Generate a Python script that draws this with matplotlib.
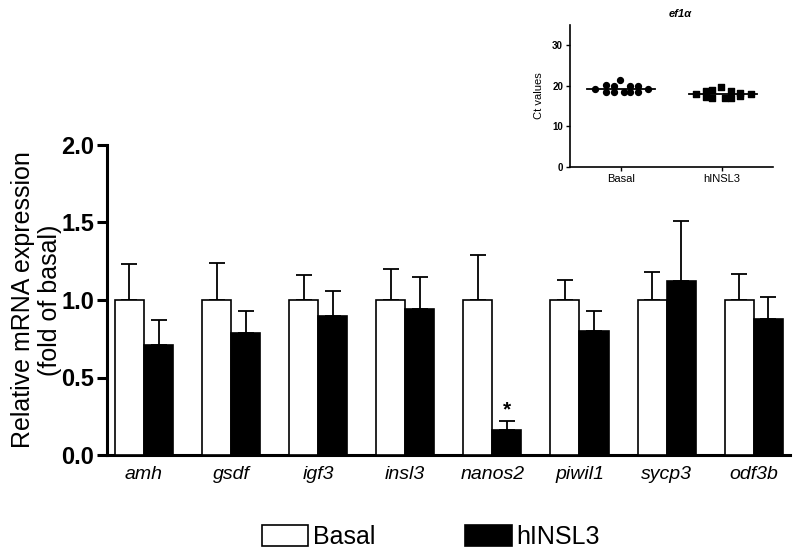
import matplotlib
matplotlib.use("Agg")
import matplotlib.pyplot as plt
import numpy as np
from matplotlib.patches import Patch

plt.rcParams['font.family'] = ['Liberation Sans', 'DejaVu Sans']

genes = ['amh', 'gsdf', 'igf3', 'insl3', 'nanos2', 'piwil1', 'sycp3', 'odf3b']
basal_mean = [1.0, 1.0, 1.0, 1.0, 1.0, 1.0, 1.0, 1.0]
basal_err = [0.23, 0.24, 0.16, 0.20, 0.29, 0.13, 0.18, 0.17]
insl3_mean = [0.71, 0.79, 0.90, 0.94, 0.16, 0.80, 1.12, 0.88]
insl3_err = [0.16, 0.14, 0.16, 0.21, 0.06, 0.13, 0.39, 0.14]
signif = ['', '', '', '', '*', '', '', '']

# inset data (Ct values of ef1a)
basal_ct = [19.2, 20.2, 18.4, 20.0, 18.4, 21.4, 18.4, 19.9, 18.5, 19.9, 18.4, 19.2]
basal_dx = [-0.25, -0.15, -0.15, -0.07, -0.07, -0.01, 0.03, 0.09, 0.09, 0.17, 0.17, 0.27]
hinsl3_ct = [17.9, 18.8, 17.3, 19.1, 17.0, 19.7, 17.1, 18.7, 17.0, 18.3, 17.4, 17.9]
hinsl3_dx = [-0.26, -0.16, -0.16, -0.10, -0.10, -0.01, 0.03, 0.09, 0.09, 0.17, 0.17, 0.28]
basal_ct_mean = 19.2
hinsl3_ct_mean = 17.9

fig = plt.figure(figsize=(7.93, 5.52), dpi=100)
ax = fig.add_axes([107/793, 97/552, 683/793, 310/552])

x = np.arange(len(genes))
w = 1/3
lw = 1.2
ax.bar(x - w/2, basal_mean, w, color='white', edgecolor='black', linewidth=lw, zorder=3)
ax.bar(x + w/2, insl3_mean, w, color='black', edgecolor='black', linewidth=lw, zorder=3)
ax.errorbar(x - w/2, basal_mean, yerr=[np.zeros(len(genes)), basal_err], fmt='none',
            ecolor='black', elinewidth=1.3, capsize=6, capthick=1.3, zorder=2)
ax.errorbar(x + w/2, insl3_mean, yerr=[np.zeros(len(genes)), insl3_err], fmt='none',
            ecolor='black', elinewidth=1.3, capsize=6, capthick=1.3, zorder=2)
for i, s in enumerate(signif):
    if s:
        ax.text(x[i] + w/2, insl3_mean[i] + insl3_err[i] + 0.01, s, ha='center', va='bottom',
                fontsize=15, fontweight='bold')

ax.set_xlim(-0.425, 7.417)
ax.set_ylim(0, 2.0)
ax.set_yticks([0.0, 0.5, 1.0, 1.5, 2.0])
ax.set_yticklabels(['0.0', '0.5', '1.0', '1.5', '2.0'], fontweight='bold', fontsize=17)
ax.set_xticks(x)
ax.set_xticklabels(genes, fontstyle='italic', fontsize=14)
ax.tick_params(axis='x', length=0, pad=8)
ax.tick_params(axis='y', length=7, width=2.2, pad=2)
for sp in ['top', 'right']:
    ax.spines[sp].set_visible(False)
for sp in ['left', 'bottom']:
    ax.spines[sp].set_linewidth(2.2)
ax.set_ylabel('Relative mRNA expression\n(fold of basal)', fontsize=18, labelpad=0, linespacing=1.15)

handles = [Patch(facecolor='white', edgecolor='black', linewidth=1.2),
           Patch(facecolor='black', edgecolor='black', linewidth=1.2)]
fig.legend(handles, ['Basal', 'hINSL3'], loc='center', bbox_to_anchor=(431/793, 1 - 537/552),
           ncol=2, frameon=False, fontsize=18, handlelength=1.85, handleheight=0.9,
           handletextpad=0.2, columnspacing=3.6)

# inset
ins = fig.add_axes([570/793, 385/552, 203/793, 142/552])
ins.scatter(1 + np.array(basal_dx), basal_ct, marker='o', s=18, color='black', zorder=3)
ins.scatter(2 + np.array(hinsl3_dx), hinsl3_ct, marker='s', s=16, color='black', zorder=3)
ins.plot([1 - 0.33, 1 + 0.34], [basal_ct_mean, basal_ct_mean], color='black', lw=1.3)
ins.plot([2 - 0.33, 2 + 0.34], [hinsl3_ct_mean, hinsl3_ct_mean], color='black', lw=1.3)
ins.set_xlim(0.5, 2.5)
ins.set_ylim(0, 35)
ins.set_yticks([0, 10, 20, 30])
ins.set_yticklabels(['0', '10', '20', '30'], fontweight='bold', fontsize=7)
ins.set_xticks([1, 2])
ins.set_xticklabels(['Basal', 'hINSL3'], fontsize=8)
ins.tick_params(axis='both', length=3, width=1.0, pad=2)
for sp in ['top', 'right']:
    ins.spines[sp].set_visible(False)
for sp in ['left', 'bottom']:
    ins.spines[sp].set_linewidth(1.2)
ins.set_ylabel('Ct values', fontsize=8, labelpad=6)
fig.text(680/793, 1 - 14/552, 'ef1α', ha='center', va='center', fontsize=8,
         fontweight='bold', fontstyle='italic')

fig.savefig('out.png', dpi=100)
